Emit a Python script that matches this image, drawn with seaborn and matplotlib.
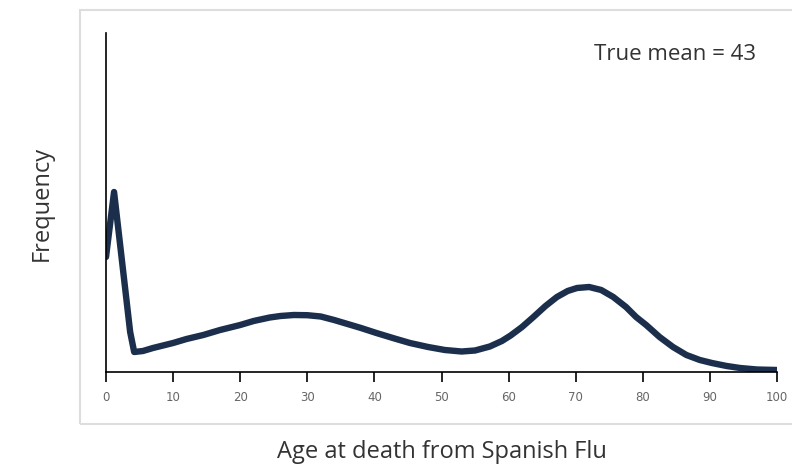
import matplotlib
matplotlib.use("Agg")
import matplotlib.pyplot as plt
from matplotlib.patches import Rectangle
import seaborn as sns
import pandas as pd

# Age-at-death distribution (relative frequency, arbitrary units)
ages = [0, 1.2, 3.6, 4.2, 5.5, 7, 8.5, 10, 12, 14.5, 17, 20, 22, 24.4, 26, 28,
        30, 32, 34, 36, 38, 40.3, 43, 45.3, 48, 50.5, 53, 55, 57.2, 59, 60.3,
        62, 63.7, 65.5, 67.2, 68.8, 70.2, 72, 73.8, 75.6, 77.5, 79, 80.5,
        82.5, 84.5, 86.5, 88.5, 90.3, 92.5, 94.5, 97, 100]
frequency = [115, 180, 40, 20, 21, 24, 26.5, 29, 33, 37, 42, 47, 51, 54.5,
             56, 57, 56.8, 55.5, 52, 48, 44, 39, 33.5, 29, 25, 22, 20.5, 21.5,
             25.5, 31, 36.5, 45, 55, 66, 75, 81, 84, 85, 82, 75, 65, 55, 47,
             35, 25, 17, 12, 9, 6, 4, 2.5, 2]
x_ticks = [0, 10, 20, 30, 40, 50, 60, 70, 80, 90, 100]
annotation = "True mean = 43"
x_title = "Age at death from Spanish Flu"
y_title = "Frequency"

sns.set_theme(style="white")
plt.rcParams["font.family"] = ["Open Sans", "DejaVu Sans"]

df = pd.DataFrame({"age": ages, "freq": frequency})

fig = plt.figure(figsize=(7.92, 4.65), dpi=100)
ax = fig.add_axes([106 / 792, 1 - 372 / 465, (777 - 106) / 792, (372 - 33) / 465])

sns.lineplot(data=df, x="age", y="freq", ax=ax, color="#1b2f4d",
             linewidth=4.6, solid_joinstyle="round")

ax.set_xlim(0, 100)
ax.set_ylim(0, 339)
ax.set_xticks(x_ticks)
ax.set_xticklabels([str(t) for t in x_ticks], fontsize=8.5, color="#666666",
                   family=["Liberation Sans Narrow", "DejaVu Sans"])
ax.set_yticks([])
ax.set_xlabel("")
ax.set_ylabel("")
ax.tick_params(axis="x", direction="out", length=7, width=1.2, color="black",
               pad=7, bottom=True)
for side in ("top", "right"):
    ax.spines[side].set_visible(False)
for side in ("left", "bottom"):
    ax.spines[side].set_color("black")
    ax.spines[side].set_linewidth(1.2)

fig.text(675 / 792, 1 - 54 / 465, annotation, ha="center", va="center",
         fontsize=16, color="#333333")
fig.text(441.5 / 792, 1 - 452 / 465, x_title, ha="center", va="center",
         fontsize=17, color="#333333")
fig.text(42 / 792, 1 - 203 / 465, y_title, ha="center", va="center",
         rotation=90, fontsize=17, color="#333333")

# light frame around the plot area
fig.patches.append(Rectangle((80 / 792, 1 - 424 / 465), 800 / 792, (424 - 10) / 465,
                             transform=fig.transFigure, fill=False,
                             edgecolor="#dddddd", linewidth=1.5))

fig.savefig("out.png", dpi=100)
